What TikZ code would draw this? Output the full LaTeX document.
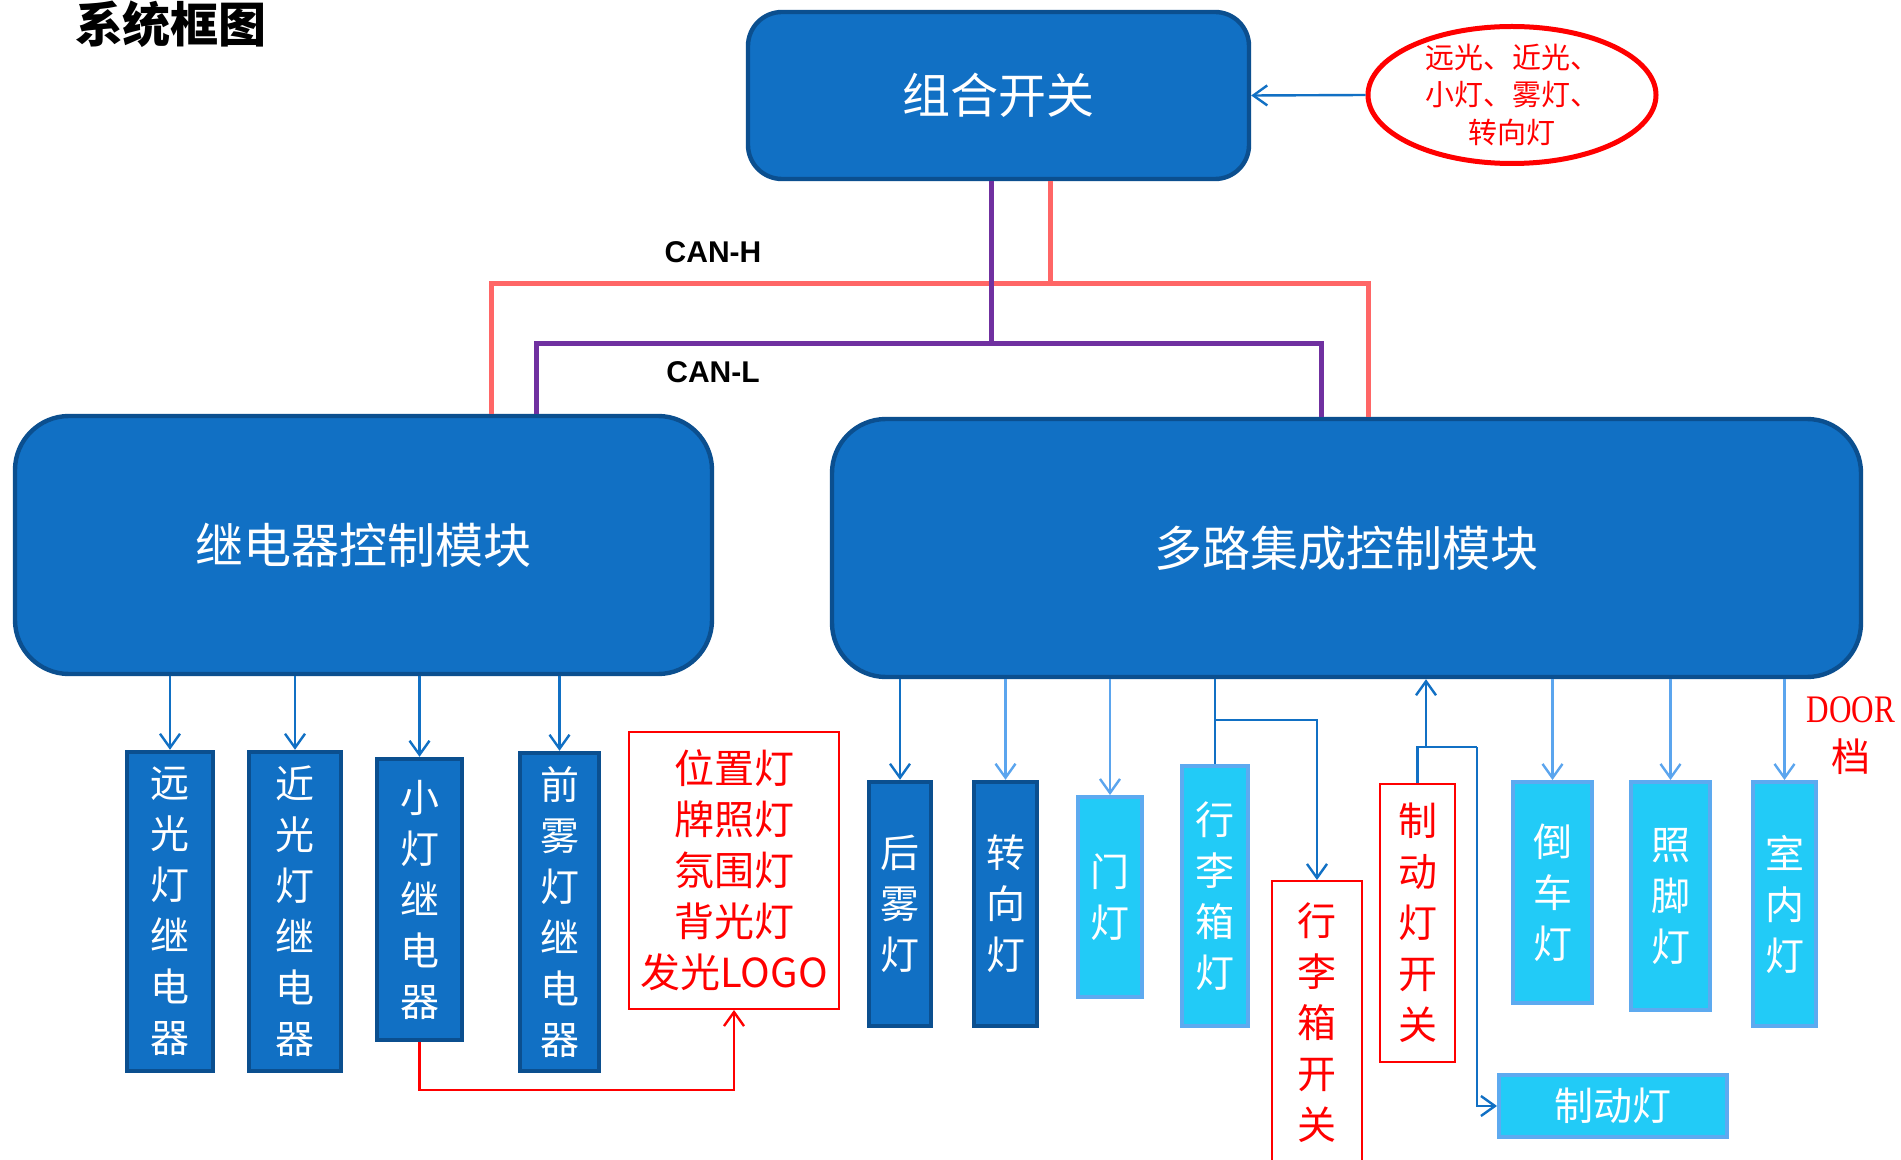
\documentclass[tikz,border=0pt]{standalone}
\usepackage{fontspec}
\setmainfont{Noto Sans CJK SC}
\newfontfamily\canfont{Liberation Sans}
\newfontfamily\doorfont{Liberation Serif}
\usetikzlibrary{arrows.meta,positioning,shapes.geometric,calc}
\definecolor{ModBlue}{HTML}{1170C4}
\definecolor{ModEdge}{HTML}{0B4F8F}
\definecolor{LampCyan}{HTML}{22CBF7}
\definecolor{LampEdge}{HTML}{5DAAF0}
\definecolor{ArrLight}{HTML}{5BA5EE}
\definecolor{CanHRed}{HTML}{FF6666}
\definecolor{CanLPurple}{HTML}{7030A0}

\tikzset{
  module/.style={draw=ModEdge, fill=ModBlue, line width=2.2pt, rounded corners=#1,
    text=white, inner sep=0pt, font=\fontsize{24}{28}\selectfont},
  relay/.style={draw=ModEdge, fill=ModBlue, line width=2.2pt, text=white,
    align=center, inner sep=0pt, font=\fontsize{19.5}{25.5}\selectfont},
  lamp/.style={draw=LampEdge, fill=LampCyan, line width=2pt, text=white,
    align=center, inner sep=0pt, font=\fontsize{19.5}{25.5}\selectfont},
  redbox/.style={draw=red, line width=1pt, text=red, align=center,
    inner sep=0pt, font=\fontsize{19.5}{25.5}\selectfont},
  wire/.style={draw=ModBlue, line width=1.2pt},
  darr/.style={wire, -{Straight Barb[length=7pt,width=10pt]}},
  larr/.style={darr, draw=ArrLight},
  canh/.style={draw=CanHRed, line width=2.5pt},
  canl/.style={draw=CanLPurple, line width=2.5pt},
}

\begin{document}
\begin{tikzpicture}[x=0.5pt, y=-0.5pt]
\useasboundingbox (0,0) rectangle (1901,1160);
\clip (0,0) rectangle (1901,1160);
\fill[white] (0,0) rectangle (1901,1160);

% Title
\node[font=\fontsize{24}{28}\selectfont\bfseries] (title) at (171,24) {系统框图};

% Top switch and selector
\node[module=17pt, minimum width=250.5pt, minimum height=83.5pt] (combSw) at (998.5,95.5) {组合开关};
\node[ellipse, draw=red, line width=2.5pt, minimum width=144pt, minimum height=68.5pt] (lightSel) at (1512,95) {};
\node[text=red, align=center, font=\fontsize{14.5}{18.8}\selectfont] (lightTxt) at (lightSel) {远光、近光、\\小灯、雾灯、\\转向灯};
\draw[darr] (lightSel.west) -- (combSw.east);

% Modules
\node[module=27pt, minimum width=348.5pt, minimum height=129pt] (relMod) at (363.5,545) {继电器控制模块};
\node[module=27pt, minimum width=514.5pt, minimum height=129pt] (mulMod) at (1346.5,548) {多路集成控制模块};

% CAN bus
\coordinate (hL) at (491,284);
\coordinate (hR) at (1368,284);
\coordinate (hC) at (1050,284);
\coordinate (lL) at (536,344);
\coordinate (lR) at (1321,344);
\coordinate (lC) at (991,344);
\draw[canh] (hC |- combSw.south) -- (hC);
\draw[canh] (hL |- relMod.north) -- (hL) -- (hR) -- (hR |- mulMod.north);
\draw[canl] (lC |- combSw.south) -- (lC);
\draw[canl] (lL |- relMod.north) -- (lL) -- (lR) -- (lR |- mulMod.north);
\node[font=\canfont\bfseries\fontsize{15}{18}\selectfont] (canHTxt) at (713,252) {CAN-H};
\node[font=\canfont\bfseries\fontsize{15}{18}\selectfont] (canLTxt) at (713,372) {CAN-L};

% Relays
\node[relay, minimum width=43pt, minimum height=159.5pt] (hiRel) at (170,911.5) {远\\光\\灯\\继\\电\\器};
\node[relay, minimum width=46pt, minimum height=159.5pt] (loRel) at (295,911.5) {近\\光\\灯\\继\\电\\器};
\node[relay, minimum width=42.5pt, minimum height=140.5pt] (posRel) at (419.5,899.5) {小\\灯\\继\\电\\器};
\node[relay, minimum width=39.5pt, minimum height=159pt] (fogRel) at (559.5,912) {前\\雾\\灯\\继\\电\\器};
\node[redbox, minimum width=105pt, minimum height=138.5pt, font=\fontsize{20}{25.5}\selectfont] (logoLmp) at (734,870.5) {位置灯\\牌照灯\\氛围灯\\背光灯\\发光LOGO};
\foreach \r in {hiRel,loRel,posRel,fogRel}
  \draw[darr] (\r.north |- relMod.south) -- (\r.north);
\draw[red, line width=1.2pt, -{Straight Barb[length=7pt,width=10pt]}] (posRel.south) -- ++(0,48) -| (logoLmp.south);

% Multiplex outputs
\node[relay, minimum width=31pt, minimum height=122pt] (rFog) at (900,904) {后\\雾\\灯};
\node[relay, minimum width=31.5pt, minimum height=122pt] (turnLmp) at (1005.5,904) {转\\向\\灯};
\node[lamp, minimum width=32pt, minimum height=100pt] (doorLmp) at (1110,897) {门\\灯};
\node[lamp, minimum width=33pt, minimum height=130pt] (trunkLmp) at (1215,896) {行\\李\\箱\\灯};
\node[redbox, minimum width=45pt, minimum height=142pt] (trunkSw) at (1317,1023) {行\\李\\箱\\开\\关};
\node[redbox, minimum width=37.5pt, minimum height=139pt] (brakeSw) at (1417.5,923) {制\\动\\灯\\开\\关};
\node[lamp, minimum width=39.5pt, minimum height=110.5pt] (revLmp) at (1552.5,892.5) {倒\\车\\灯};
\node[lamp, minimum width=39.5pt, minimum height=114pt] (footLmp) at (1670.5,896) {照\\脚\\灯};
\node[lamp, minimum width=31.5pt, minimum height=122pt] (roomLmp) at (1784.5,904) {室\\内\\灯};
\node[lamp, minimum width=114pt, minimum height=31pt] (brakeLmp) at (1613,1106) {制动灯};
\node[text=red, align=center, font=\fontsize{19.5}{24.5}\selectfont] (doorTxt) at (1851,736) {{\doorfont\scalebox{0.8}[1]{DOOR}}\\档};

\draw[darr] (rFog.north |- mulMod.south) -- (rFog.north);
\foreach \l in {turnLmp,doorLmp,revLmp,footLmp,roomLmp}
  \draw[larr] (\l.north |- mulMod.south) -- (\l.north);

% Trunk switch branch
\coordinate (tkJ) at (1215,720);
\draw[wire] (trunkLmp.north |- mulMod.south) -- (trunkLmp.north);
\draw[darr] (tkJ) -| (trunkSw.north);

% Brake switch branch
\coordinate (bkJ) at (1426,747);
\coordinate (bkR) at (1477,747);
\draw[darr] (bkJ) -- (bkJ |- mulMod.south);
\draw[wire] (brakeSw.north) |- (bkR);
\draw[darr] (bkR) |- (brakeLmp.west);
\end{tikzpicture}
\end{document}
